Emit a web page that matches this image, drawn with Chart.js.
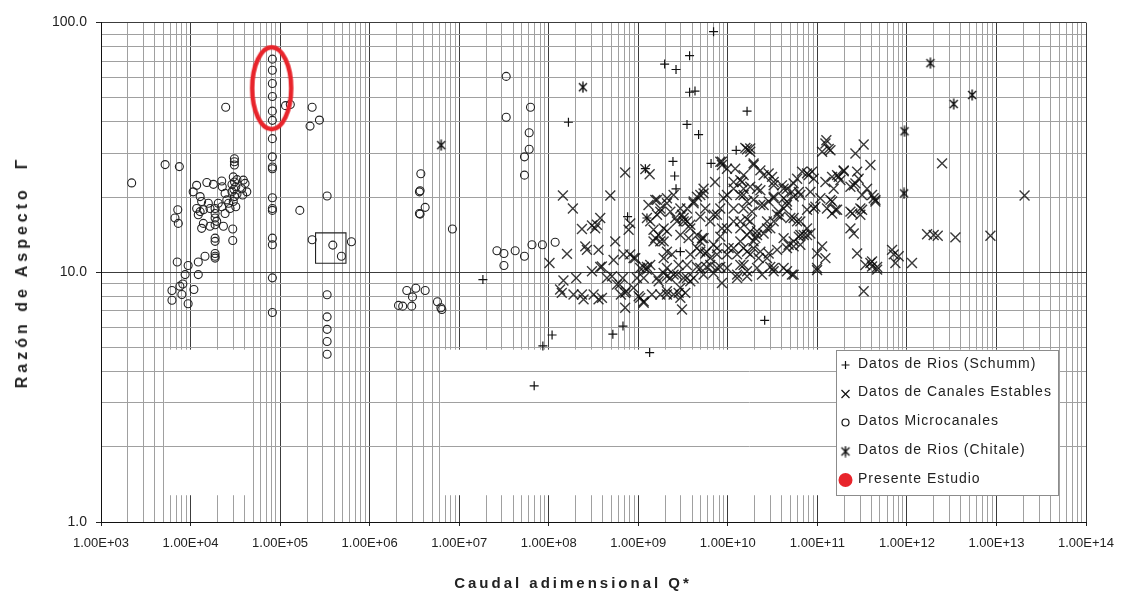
<!DOCTYPE html>
<html><head><meta charset="utf-8">
<script src="https://cdn.jsdelivr.net/npm/chart.js@4/dist/chart.umd.min.js"></script>
<style>
html,body{margin:0;padding:0;background:#fff;}
#wrap{position:relative;width:1126px;height:592px;overflow:hidden;}
canvas{position:absolute;left:0;top:0;}
.ttl{position:absolute;font-family:"Liberation Sans",Arial,sans-serif;font-weight:bold;color:#222;white-space:nowrap;}
#xt{left:573px;top:582px;transform:translate(-50%,-50%);font-size:15px;letter-spacing:3px;}
#yt{left:22px;top:272px;transform:translate(-50%,-50%) rotate(-90deg);font-size:16px;letter-spacing:4px;}
</style></head>
<body><div id="wrap"><canvas id="c" width="1126" height="592"></canvas>
<div class="ttl" id="xt">Caudal adimensional Q*</div>
<div class="ttl" id="yt">Razón de Aspecto&nbsp; Γ</div></div>
<script>
// ---------- tick labels ----------
const xTickLabels = ['1.00E+03','1.00E+04','1.00E+05','1.00E+06','1.00E+07','1.00E+08','1.00E+09','1.00E+10','1.00E+11','1.00E+12','1.00E+13','1.00E+14'];
const yTickLabels = ['1.0','10.0','100.0'];
const seriesNames = ['Datos de Rios (Schumm)','Datos de Canales Estables','Datos Microcanales','Datos de Rios (Chitale)','Presente Estudio'];

// ---------- series values [Q*, Γ] ----------
const schumm = [[1.97e9,68.2],[2.64e9,64.9],[1.66e8,39.9],[2.44e9,27.8],[2.55e9,24.3],[2.64e9,21.6],[1.84e7,9.35],[1.09e8,5.61],[8.6e7,5.07],[1.34e9,4.77],[6.93e9,92],[3.74e9,73.7],[3.74e9,52.6],[4.3e9,53.2],[1.64e10,44.2],[3.5e9,39.1],[4.72e9,35.6],[1.24e10,30.8],[6.5e9,27.3],[1.2e9,26.0],[7.6e8,16.7],[1.25e9,16.5],[2.95e9,12.1],[2.58e10,6.42],[5.2e8,5.65],[6.75e8,6.09],[6.88e7,3.51]];

const canales = [[1.44e8,20.3],[1.86e8,18.0],[4.87e8,20.3],[7.14e8,25.1],[1.34e9,24.7],[1.2e9,25.9],[2.35e8,14.9],[3.04e8,15.4],[3.3e8,15.0],[3.76e8,16.5],[3.45e8,15.5],[2.56e8,12.7],[2.67e8,12.3],[3.6e8,12.3],[3.76e8,10.5],[3.92e8,10.55],
[1.6e8,11.85],[1.02e8,10.9],[5.53e8,13.3],[5.3e8,11.2],[8.12e8,15.7],[7.8e8,14.8],[8.12e8,11.8],[9.25e8,11.4],[1.46e8,9.27],[2.03e8,9.49],[1.34e8,8.53],[1.4e8,8.27],[1.89e8,8.15],[2.35e8,8.15],[2.45e8,7.79],[3.6e8,7.79],[3.17e8,8.15],[3.04e8,10.1],[4.47e8,9.49],[5.78e8,8.93],[6.7e8,9.49],[7.3e8,8.4],[6.4e8,8.15],[9.67e8,9.49],[1.01e9,8.02],[1.15e9,7.55],[7.14e8,7.21],[1.25e9,10.25],[1.25e9,10.5],[1.3e9,18.6],[1.25e9,16.5],[1.62e9,19.5],[2.09e9,18.9],[1.76e9,17.5],[2.09e9,19.8],[1.48e9,14.8],[1.55e9,13.7],[1.76e9,13.3],[2.09e9,14.6],[2.59e9,16.5],[3.21e9,16.5],[3.5e9,16.0],[4.15e9,18.9],[4.52e9,20.1],[5.36e9,20.7],[5.6e9,18.0],[4.93e9,16.7],[6.93e9,17.0],[8.24e9,18.0],[8.98e9,19.8],[8.6e9,26.9],[8.24e9,27.7],[1.64e10,31.1],[1.78e10,30.4],[1.94e10,27.3],[2.51e10,24.5],[2.86e10,24.9],[1.38e10,23.4],[1.16e10,21.6],[1.5e10,20.4],[1.94e10,19.5],[2.51e10,18.6],[3.25e10,19.8],[2.09e9,12.1],[2.38e9,11.8],[1.92e9,11.4],[2.82e9,10.7],[3.5e9,10.7],[3.81e9,11.8],[4.52e9,12.5],[5.15e9,13.7],[5.6e9,11.9],[6.37e9,11.4],[7.57e9,12.5],[8.24e9,13.9],[9.78e9,15.0],[1.16e10,16.0],[1.38e10,15.0],[1.78e10,16.0],[2.12e10,14.6],[2.74e10,15.0],[3.25e10,16.0],[1.94e10,13.3],[1.64e10,12.1],[2.31e10,12.1],[2.74e10,11.4],[3.25e10,10.4],[2.41e10,9.79],[1.64e10,9.64],[1.27e10,9.79],[9.78e9,10.4],[8.6e9,9.06],[6.93e9,9.94],[5.36e9,9.79],[4.93e9,10.4],[4.15e9,9.49],[3.21e9,9.49],[2.7e9,9.79],[2.28e9,9.49],[1.92e9,9.94],[1.69e9,9.21],[2.09e9,8.15],[2.48e9,8.15],[2.82e9,8.27],[3.35e9,8.27],[3.08e9,7.1],[1.76e9,8.15],[1.42e9,8.15],[1.15e9,9.49],[2.09e9,9.64],[5.09e8,9.64],[7.14e8,8.27],
[1.57e10,31.5],[1.78e10,31.3],[2.31e10,25.6],[3.12e10,24.1],[1.44e10,23.0],[1.78e10,22.0],[2.31e10,21.3],[3.25e10,22.3],[4.2e10,21.6],[5.43e10,22.7],[6.75e10,25.3],[7.67e10,24.9],[8.72e10,25.3],[6.2e10,21.0],[8.36e10,21.0],[9.5e10,18.3],[1.08e11,19.8],[1.23e11,32.8],[1.26e11,33.8],[1.13e11,30.4],[1.4e11,30.8],[1.23e11,23.0],[1.46e11,24.1],[1.66e11,24.5],[1.97e11,25.6],[1.81e11,23.4],[2.66e11,29.9],[3.29e11,32.5],[3.91e11,26.9],[2.78e11,25.3],[2.89e11,23.7],[2.66e11,22.7],[2.34e11,22.0],[3.59e11,21.6],[4.26e11,19.8],[4.45e11,19.2],[1.4e11,19.5],[1.28e11,18.0],[1.46e11,17.2],[1.66e11,17.8],[2.34e11,17.5],[3.02e11,18.0],[3.02e11,17.0],[2.34e11,15.0],[2.55e11,14.3],[2.78e11,11.9],[3.44e11,10.7],[3.91e11,10.9],[4.08e11,10.55],[4.65e11,10.5],[6.83e11,12.3],[7.12e11,11.8],[8.1e11,11.6],[7.44e11,10.9],[1.14e12,10.9],[3.29e11,8.4],[1.68e12,14.2],[1.99e12,14.1],[1.13e11,12.7],[9.93e10,11.9],[1.23e11,11.4],[9.93e10,10.4],[7.67e10,15.0],[8.36e10,14.3],[7.03e10,14.1],[6.2e10,13.9],[5.43e10,13.3],[4.78e10,12.9],[4.2e10,13.7],[4.99e10,16.5],[6.46e10,16.0],[7.67e10,17.8],[4.58e10,18.6],[3.69e10,17.5],[3.88e10,16.7],[2.98e10,15.0],[2.51e10,14.3],[2.03e10,13.7],[1.78e10,14.6],[1.64e10,16.3],[1.5e10,18.0],[1.86e10,17.5],[2.31e10,18.6],[2.86e10,19.2],[3.25e10,20.1],[4.2e10,19.8],[5.43e10,20.1],[1.5e10,12.5],[1.78e10,11.8],[2.21e10,11.4],[2.86e10,11.9],[3.55e10,12.3],[4.58e10,12.5],[5.43e10,12.7],[6.46e10,12.9],[1.64e10,10.1],[3.25e10,10.1],[4.2e10,10.4],[5.2e10,9.79],[9.93e10,10.2],[1.5e10,10.7],
[1.34e11,31.2],[1.73e11,24.1],[1.97e11,25.4],[1.52e11,21.6],[2.55e11,22.3],[3.16e11,20.4],[4.08e11,20.4],[4.45e11,19.5],[1.46e11,19.2],[1.59e11,17.8],[2.46e11,17.2],[3.16e11,17.8],[2.47e12,27.3],[2.21e12,14.0],[3.48e12,13.8],[8.56e12,14.0],[2.06e13,20.3],[4.65e11,10.25],[4.08e11,11.05],
[3.93e8,7.9],[1.21e10,26.0],[1.5e10,24.5],[1.94e10,26.9],[4.03e10,22.3],[5.2e10,21.0],[5.94e10,23.7],[8.0e10,24.5],[9.1e10,23.7],[4.58e10,19.2],[5.94e10,16.0],[4.93e9,20.4],[4.15e9,19.2],[3.21e9,16.0],[3.81e9,15.0],[5.36e9,13.7],[6.93e9,12.9],[1.02e10,12.5],[1.27e10,11.8],[4.93e9,12.1],[4.52e9,10.5],[5.78e9,10.5],[7.57e9,10.4],[1.27e10,9.49],[3.81e9,9.21],[2.95e9,8.66],[1.62e9,9.49],[1.05e9,10.4],[8.85e8,11.4],[6.84e8,11.8],[1.92e9,15.0],[1.62e9,17.0],[2.48e9,20.4],[3.08e9,17.0],[2.95e9,14.1],[3.65e9,13.7],[1.38e10,16.0],[2.12e10,14.1],[1.94e10,12.5],[2.98e10,10.5],[6.46e10,14.1],[9.1e10,18.0],[9.78e9,20.4],[1.38e10,20.4],[1.64e10,19.2],[1.16e10,18.0],[7.57e9,17.0],[6.37e9,16.0],[8.6e9,15.0],[8.6e9,27.7],
[1.55e9,19.5],[1.76e9,18.0],[2.28e9,17.5],[1.36e9,16.0],[1.69e9,14.1],[1.92e9,13.3],[1.48e9,13.3],[2.7e9,16.0],[3.81e9,15.5],[4.52e9,14.1],[4.93e9,13.3],[5.78e9,12.1],[7.57e9,11.8],[9.78e9,11.8],[1.16e10,12.5],[1.38e10,13.3],[1.64e10,14.1],[2.74e10,16.0],[3.55e10,17.0],[4.2e10,18.0],[5.43e10,16.5],[7.67e10,14.1],[6.46e10,20.4],[4.58e10,21.6],[3.25e10,23.0],[2.12e10,21.6],[1.5e10,21.6],[1.16e10,23.0],[9.78e9,26.0],[7.2e9,23.0],[5.36e9,21.6],[3.5e9,18.0],[2.95e9,18.0],[1.15e9,10.5],[1.36e9,10.7],[2.09e9,10.4],[2.48e9,9.79],[3.5e9,9.49],[6.37e9,10.7],[8.24e9,10.5],[1.38e10,10.7],[2.12e10,10.4],[4.58e10,10.1],[5.43e10,9.79],[1.05e9,7.9],[6.2e8,8.93],[8.85e8,8.66],[1.15e9,7.65],[2.95e9,7.9],[2.09e9,8.4]];

const micro = [[2.2e3,22.8],[5.2e3,27.0],[7.5e3,26.5],[2.47e4,45.8],
[8.2e4,71.4],[8.2e4,64.4],[8.2e4,57.0],[8.2e4,50.6],[8.2e4,44.2],[8.2e4,40.6],[8.2e4,34.3],[8.2e4,29.0],[8.2e4,26.4],[8.2e4,26.0],[8.2e4,19.9],[8.2e4,18.0],[8.2e4,17.7],[8.2e4,13.7],[8.2e4,12.9],[8.2e4,9.5],[8.2e4,6.9],
[1.15e5,46.5],[1.3e5,47],[2.28e5,45.8],[2.75e5,40.7],[2.16e5,38.5],[3.35e5,20.2],[1.66e5,17.7],[2.28e5,13.5],[3.88e5,12.85],[4.84e5,11.6],[6.26e5,13.25],
[3.35e5,8.13],[3.35e5,6.63],[3.35e5,5.91],[3.35e5,5.28],[3.35e5,4.70],
[3.09e4,28.5],[3.09e4,27.7],[3.09e4,26.9],[3.0e4,24.1],[3.1e4,23.0],[3.2e4,22.0],[2.9e4,21.0],[3.1e4,20.1],[3.0e4,19.2],[3.2e4,18.3],[3.3e4,23.5],[2.9e4,22.5],[3.05e4,21.5],[3.3e4,20.6],
[1.52e4,22.9],[1.8e4,22.5],[2.23e4,23.2],[2.26e4,22.0],[2.43e4,20.7],[2.54e4,19.5],[2.76e4,18.0],[2.66e4,18.9],[3.89e4,23.4],[4.06e4,22.7],[4.25e4,21.0],[3.73e4,21.6],[3.82e4,20.4],
[1.17e4,22.3],[1.07e4,21.0],[1.28e4,20.1],[1.33e4,19.2],[1.17e4,18.0],[1.28e4,17.5],[1.22e4,17.0],[1.39e4,17.8],[1.58e4,18.9],[1.65e4,18.0],[1.88e4,18.0],[1.88e4,17.2],[1.88e4,16.5],[1.96e4,16.0],[1.88e4,15.5],[2.04e4,18.9],[1.33e4,15.0],[1.39e4,15.7],[1.65e4,15.3],[2.33e4,15.3],[2.43e4,17.2],[2.23e4,18.3],
[1.88e4,13.7],[1.88e4,13.3],[1.88e4,11.9],[1.88e4,11.6],[1.88e4,11.4],[2.96e4,14.9],[2.96e4,13.4],
[7.2e3,17.8],[6.7e3,16.5],[7.3e3,15.7],[7.1e3,11.0],[9.4e3,10.65],[1.45e4,11.6],[1.22e4,11.0],[1.22e4,9.79],[8.7e3,9.79],[8.2e3,8.98],[7.6e3,8.80],[6.2e3,8.45],[6.2e3,7.73],[8.0e3,8.15],[1.09e4,8.53],[9.4e3,7.48],
[2.1e6,7.37],
[3.73e6,24.8],[3.66e6,21.2],[3.6e6,21.0],[4.17e6,18.2],[3.6e6,17.2],[3.66e6,17.1],[8.4e6,14.9],[3.35e7,60.9],[3.35e7,41.8],[6.26e7,45.8],[6.05e7,36.2],[6.05e7,31.1],[5.36e7,29.0],[5.36e7,24.5],[2.64e7,12.2],[3.16e7,11.9],[4.22e7,12.2],[5.36e7,11.6],[6.5e7,12.9],[8.5e7,12.9],[1.18e8,13.2],[3.16e7,10.65],[2.6e6,8.45],[3.28e6,8.63],[4.17e6,8.45],[3.01e6,7.97],[2.34e6,7.32],[2.95e6,7.32],[5.72e6,7.62],[6.25e6,7.21],[6.4e6,7.1]];

const chitale = [[6.3e6,32.3],[2.41e8,55.1],[9.4e11,36.7],[9.3e11,20.7],[1.83e12,68.8],[3.33e12,47.2],[5.35e12,51.3]];
const presente = [[8.05e4,54.6]];
const recuadro = [[3.68e5,12.5]];

// ---------- helpers ----------
const toXY = a => a.map(p => ({x: p[0], y: p[1]}));
function isMajor(v){ const l = Math.log10(v); return Math.abs(l - Math.round(l)) < 1e-6; }
function logTicks(e0, e1){ const t = []; for (let e = e0; e < e1; e++) for (let m = 1; m < 10; m++) t.push(m * Math.pow(10, e)); t.push(Math.pow(10, e1)); return t; }
const FONT = '"Liberation Sans", Arial, sans-serif';

function mkChitale(){
  const c = document.createElement('canvas'); c.width = 12; c.height = 12;
  const g = c.getContext('2d'); g.strokeStyle = '#111'; g.lineWidth = 1.4;
  g.beginPath(); g.moveTo(2,2); g.lineTo(10,10); g.moveTo(10,2); g.lineTo(2,10); g.moveTo(6,0.5); g.lineTo(6,11.5); g.stroke();
  return c;
}
function mkEllipse(){
  const c = document.createElement('canvas'); c.width = 50; c.height = 96;
  const g = c.getContext('2d'); g.strokeStyle = '#e8242b'; g.lineWidth = 4.5;
  g.beginPath(); g.ellipse(25, 48, 19.5, 41, 0, 0, Math.PI * 2); g.stroke();
  return c;
}
const chitaleImg = mkChitale();
const ellipseImg = mkEllipse();

// white patches of the original figure (hide vertical grid), redraw horizontal grid through them
const maskPlugin = {
  id: 'maskPlugin',
  beforeDatasetsDraw(chart){
    const {ctx, scales: {x, y}} = chart;
    const boxes = [{q0: 5.1e3, q1: 4.8e4, g0: 1.28, g1: 4.9}, {q0: 6.2e6, q1: 4.9e13, g0: 1.28, g1: 4.9}];
    ctx.save();
    boxes.forEach(b => {
      const x1 = x.getPixelForValue(b.q0), x2 = x.getPixelForValue(b.q1);
      const yt = y.getPixelForValue(b.g1), yb = y.getPixelForValue(b.g0);
      ctx.fillStyle = '#fff'; ctx.fillRect(x1, yt, x2 - x1, yb - yt);
      ctx.strokeStyle = '#a0a0a0'; ctx.lineWidth = 1;
      y.ticks.forEach(t => {
        if (t.value > b.g0 && t.value < b.g1) {
          const py = Math.round(y.getPixelForValue(t.value) - 0.5) + 0.5;
          ctx.beginPath(); ctx.moveTo(x1, py); ctx.lineTo(x2, py); ctx.stroke();
        }
      });
    });
    ctx.restore();
  }
};

const legendPlugin = {
  id: 'boxLegend',
  afterDraw(chart){
    const ctx = chart.ctx;
    ctx.save();
    const L = 836.5, T = 350.5, W = 222, H = 145;
    ctx.fillStyle = '#fff'; ctx.fillRect(L, T, W, H);
    ctx.strokeStyle = '#8c8c8c'; ctx.lineWidth = 1; ctx.strokeRect(L, T, W, H);
    const rows = [364, 392.5, 421.5, 450, 479.5];
    const mx = 845.5;
    ctx.strokeStyle = '#111'; ctx.lineWidth = 1.2;
    let y0 = rows[0] + 1;
    ctx.beginPath(); ctx.moveTo(mx - 4, y0); ctx.lineTo(mx + 4, y0); ctx.moveTo(mx, y0 - 4); ctx.lineTo(mx, y0 + 4); ctx.stroke();
    y0 = rows[1] + 1.5;
    ctx.beginPath(); ctx.moveTo(mx - 4, y0 - 4); ctx.lineTo(mx + 4, y0 + 4); ctx.moveTo(mx + 4, y0 - 4); ctx.lineTo(mx - 4, y0 + 4); ctx.stroke();
    y0 = rows[2] + 1;
    ctx.beginPath(); ctx.arc(mx, y0, 3.5, 0, Math.PI * 2); ctx.stroke();
    y0 = rows[3] + 1.5;
    ctx.drawImage(chitaleImg, mx - 6, y0 - 6);
    y0 = rows[4] + 0.5;
    ctx.fillStyle = '#e8242b'; ctx.beginPath(); ctx.arc(mx, y0, 7, 0, Math.PI * 2); ctx.fill();
    ctx.fillStyle = '#222';
    ctx.font = '14px ' + FONT;
    try { ctx.letterSpacing = '1px'; } catch(e) {}
    ctx.textBaseline = 'middle'; ctx.textAlign = 'left';
    seriesNames.forEach((n, i) => ctx.fillText(n, 858, rows[i]));
    ctx.restore();
  }
};

new Chart(document.getElementById('c'), {
  type: 'scatter',
  data: {
    datasets: [
      {label: seriesNames[4], data: toXY(presente), pointStyle: ellipseImg, pointRadius: 20, order: 0},
      {label: seriesNames[3], data: toXY(chitale), pointStyle: chitaleImg, pointRadius: 6, order: 1},
      {label: seriesNames[0], data: toXY(schumm), pointStyle: 'cross', pointRadius: 4.5, borderColor: '#111', pointBorderColor: '#111', pointBorderWidth: 1.2, backgroundColor: 'transparent', pointBackgroundColor: 'transparent', order: 2},
      {label: seriesNames[2], data: toXY(micro), pointStyle: 'circle', pointRadius: 4, borderColor: '#222', pointBorderColor: '#222', pointBorderWidth: 1.1, backgroundColor: 'transparent', pointBackgroundColor: 'transparent', order: 3},
      {label: 'recuadro', data: toXY(recuadro), pointStyle: 'rect', pointRadius: 21.5, borderColor: '#222', pointBorderColor: '#222', pointBorderWidth: 1.1, backgroundColor: 'transparent', pointBackgroundColor: 'transparent', order: 4},
      {label: seriesNames[1], data: toXY(canales), pointStyle: 'crossRot', pointRadius: 7, borderColor: 'rgba(10,10,10,0.8)', pointBorderColor: 'rgba(10,10,10,0.8)', pointBorderWidth: 1.4, backgroundColor: 'transparent', pointBackgroundColor: 'transparent', order: 5}
    ]
  },
  options: {
    responsive: false,
    devicePixelRatio: 1,
    animation: false,
    events: [],
    layout: {padding: {top: 20, right: 40, left: 0, bottom: 0}},
    plugins: {legend: {display: false}, tooltip: {enabled: false}},
    scales: {
      x: {
        type: 'logarithmic', position: 'bottom', min: 1e3, max: 1e14,
        afterBuildTicks(s){ s.ticks = logTicks(3, 14).map(v => ({value: v})); },
        afterFit(s){ s.height = 70; },
        grid: {
          color: c => isMajor(c.tick.value) ? '#3c3c3c' : '#a0a0a0',
          tickColor: c => isMajor(c.tick.value) ? '#222' : 'rgba(0,0,0,0)',
          lineWidth: 1, tickLength: 4, drawTicks: true
        },
        border: {display: true, color: '#111', width: 1},
        ticks: {
          autoSkip: false, maxRotation: 0, minRotation: 0, padding: 10,
          color: '#222', font: {family: FONT, size: 13},
          callback: v => isMajor(v) ? xTickLabels[Math.round(Math.log10(v)) - 3] : ''
        }
      },
      y: {
        type: 'logarithmic', position: 'left', min: 1, max: 100,
        afterBuildTicks(s){ s.ticks = logTicks(0, 2).map(v => ({value: v})); },
        afterFit(s){ s.width = 101; },
        grid: {
          color: c => isMajor(c.tick.value) ? '#3c3c3c' : '#a0a0a0',
          tickColor: c => isMajor(c.tick.value) ? '#222' : 'rgba(0,0,0,0)',
          lineWidth: 1, tickLength: 5, drawTicks: true
        },
        border: {display: true, color: '#111', width: 1},
        ticks: {
          autoSkip: false, padding: 9,
          color: '#222', font: {family: FONT, size: 14},
          callback: v => isMajor(v) ? yTickLabels[Math.round(Math.log10(v))] : ''
        }
      }
    }
  },
  plugins: [maskPlugin, legendPlugin]
});
</script>
</body></html>
